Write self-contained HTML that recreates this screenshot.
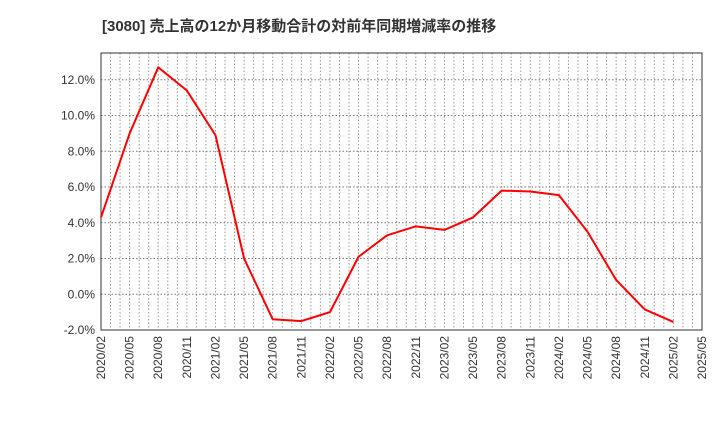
<!DOCTYPE html>
<html><head><meta charset="utf-8"><style>
body{margin:0;background:#fff;}
svg{font-family:"Liberation Sans","Noto Sans CJK JP",sans-serif;}
</style></head><body>
<svg id="chart" width="720" height="440">
<text x="102" y="31" font-size="15" font-weight="bold" fill="#333">[3080]  売上高の12か月移動合計の対前年同期増減率の推移</text>
<g id="grid"></g><g id="axes"></g><g id="series"></g>
</svg>
<script>
const categories=["2020/02","2020/05","2020/08","2020/11","2021/02","2021/05","2021/08","2021/11","2022/02","2022/05","2022/08","2022/11","2023/02","2023/05","2023/08","2023/11","2024/02","2024/05","2024/08","2024/11","2025/02","2025/05"];
const values=[4.3,9.0,12.7,11.4,8.9,2.0,-1.4,-1.5,-1.0,2.1,3.3,3.8,3.6,4.3,5.8,5.75,5.55,3.5,0.8,-0.85,-1.55];
const yTicks=[-2,0,2,4,6,8,10,12];
const X0=101,X1=702,Y0=53,Y1=330,YMIN=-2,YMAX=13.5;
const NS="http://www.w3.org/2000/svg";
function xs(i){return X0+(X1-X0)*i/(categories.length-1);}
function ys(v){return Y1-(v-YMIN)/(YMAX-YMIN)*(Y1-Y0);}
function mk(t,a,p){const e=document.createElementNS(NS,t);for(const k in a)e.setAttribute(k,a[k]);p.appendChild(e);return e;}
const grid=document.getElementById('grid'),axes=document.getElementById('axes'),ser=document.getElementById('series');
const months=(categories.length-1)*3;
for(let m=1;m<months;m++){const x=X0+(X1-X0)*m/months;
const l=mk('line',{x1:x,x2:x,y1:Y0,y2:Y1,stroke:'#999','stroke-dasharray':'1.5,2','stroke-width':1},grid);

}
yTicks.forEach(v=>{const y=ys(v);
const l=mk('line',{x1:X0,x2:X1,y1:y,y2:y,stroke:'#777','stroke-dasharray':'1.5,2','stroke-width':1},grid);


const t=mk('text',{x:X0-6,y:y+4,'text-anchor':'end','font-size':12,fill:'#333'},axes);t.textContent=v.toFixed(1)+'%';

});
categories.forEach((c,i)=>{const x=xs(i);
const t=mk('text',{x:0,y:0,'text-anchor':'end','font-size':12,fill:'#333',transform:`translate(${x+4},${Y1+6}) rotate(-90)`},axes);t.textContent=c;

});
const fr=mk('rect',{x:X0,y:Y0,width:X1-X0,height:Y1-Y0,fill:'none',stroke:'#333','stroke-width':1},axes);


const pl=mk('polyline',{points:values.map((v,i)=>xs(i)+','+ys(v)).join(' '),fill:'none',stroke:'#f00','stroke-width':2,'stroke-linejoin':'round'},ser);


</script>
</body></html>
